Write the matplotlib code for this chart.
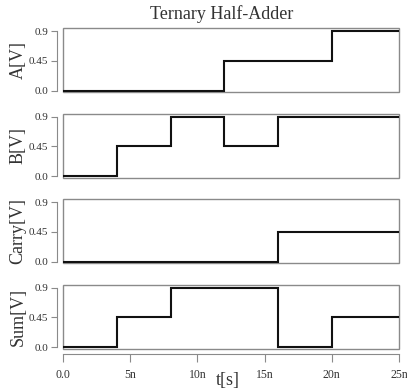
import numpy as np
import matplotlib
matplotlib.use("Agg")
import matplotlib.pyplot as plt
from matplotlib.patches import Rectangle

plt.rcParams['font.family'] = ['Liberation Serif', 'DejaVu Serif']

# switching times (ns) and voltage levels held after each switch
a_times = [0, 12, 20, 25]
a_levels = [0.0, 0.45, 0.9, 0.9]
b_times = [0, 4, 8, 12, 16, 25]
b_levels = [0.0, 0.45, 0.9, 0.45, 0.9, 0.9]
carry_times = [0, 16, 25]
carry_levels = [0.0, 0.45, 0.45]
sum_times = [0, 4, 8, 16, 20, 25]
sum_levels = [0.0, 0.45, 0.9, 0.0, 0.45, 0.45]

signals = [
    ("A[V]", a_times, a_levels),
    ("B[V]", b_times, b_levels),
    ("Carry[V]", carry_times, carry_levels),
    ("Sum[V]", sum_times, sum_levels),
]
x_ticks = [0, 5, 10, 15, 20, 25]
x_ticklabels = ["0.0", "5n", "10n", "15n", "20n", "25n"]
y_ticks = [0.0, 0.45, 0.9]
y_ticklabels = ["0.0", "0.45", "0.9"]

W, H = 407, 392
fig = plt.figure(figsize=(W / 100, H / 100), dpi=100)

box_col = "#8a8a8a"
txt_col = "#333333"
left_px, right_px = 63, 399
tops = [28, 113.5, 199, 284.5]
panel_h = 64

for i, (name, t, v) in enumerate(signals):
    top = tops[i]
    ax = fig.add_axes([left_px / W, 1 - (top + panel_h) / H,
                       (right_px - left_px) / W, panel_h / H])
    ax.plot(t, v, drawstyle="steps-post", color="#111111", lw=1.5,
            solid_joinstyle="miter")
    ax.set_xlim(0, 25)
    ax.set_ylim(-0.02, 0.95)

    for s in ["top", "right", "bottom"]:
        ax.spines[s].set_visible(False)
    ax.add_patch(Rectangle((0, 0), 1, 1, transform=ax.transAxes, fill=False,
                           edgecolor=box_col, lw=1.0, clip_on=False))
    ax.spines["left"].set_position(("outward", 4))
    ax.spines["left"].set_bounds(0, 0.9)
    ax.spines["left"].set_color(box_col)

    ax.set_yticks(y_ticks)
    ax.set_yticklabels(y_ticklabels)
    ax.tick_params(axis="y", length=4, width=0.8, color=box_col,
                   labelsize=8, labelcolor=txt_col, pad=2.5)
    ax.set_ylabel(name, fontsize=13, color=txt_col)
    ax.yaxis.set_label_coords(-0.108, 0.5)

    if i == len(signals) - 1:
        ax.spines["bottom"].set_visible(True)
        ax.spines["bottom"].set_position(("outward", 4))
        ax.spines["bottom"].set_bounds(0, 25)
        ax.spines["bottom"].set_color(box_col)
        ax.set_xticks(x_ticks)
        ax.set_xticklabels(x_ticklabels)
        ax.tick_params(axis="x", length=6, width=0.8, color=box_col,
                       labelsize=8.5, labelcolor=txt_col, pad=4.5)
    else:
        ax.set_xticks([])

fig.text(222 / W, 1 - 14.5 / H, "Ternary Half-Adder", fontsize=13,
         color=txt_col, ha="center", va="center")
fig.text(228 / W, 1 - 381 / H, "t[s]", fontsize=13, color=txt_col,
         ha="center", va="center")

fig.savefig("out.png", dpi=100)
